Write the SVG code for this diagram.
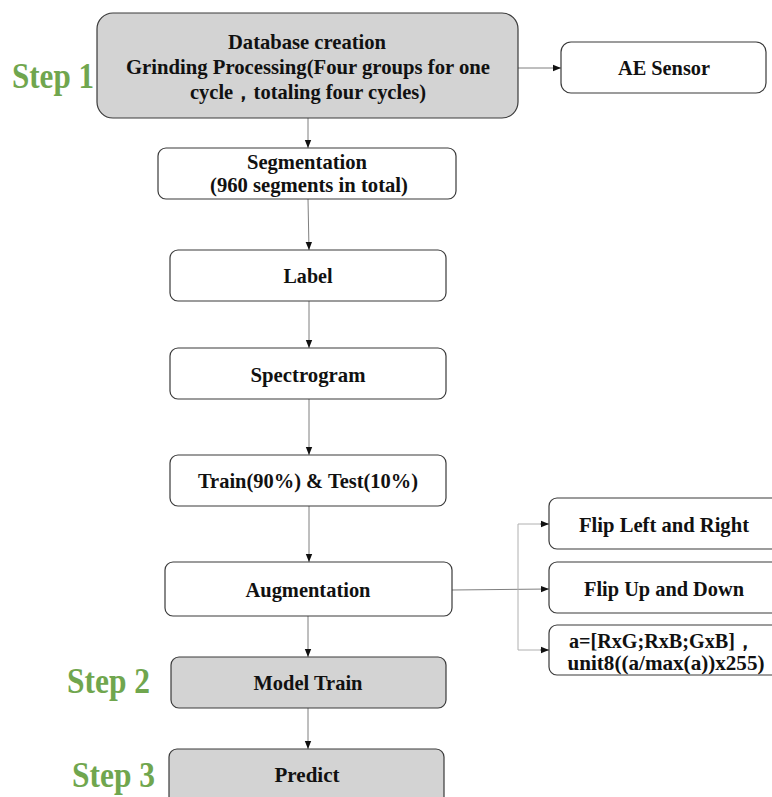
<svg xmlns="http://www.w3.org/2000/svg" width="772" height="797" viewBox="0 0 772 797">
<defs>
<style>
.box{fill:#ffffff;stroke:#3a3a3a;stroke-width:1.2}
.gray{fill:#d3d3d3;stroke:#3a3a3a;stroke-width:1.2}
.t{font-family:"Liberation Serif","Times New Roman",serif;font-weight:bold;font-size:21px;fill:#111;text-anchor:middle}
.step{font-family:"Liberation Serif","Times New Roman",serif;font-weight:bold;font-size:36px;fill:#70a64e}
.ln{fill:none;stroke:#7f7f7f;stroke-width:1}
.ln2{fill:none;stroke:#b0b0b0;stroke-width:1}
</style>
<marker id="ah" markerUnits="userSpaceOnUse" markerWidth="8" markerHeight="8" viewBox="0 0 8 8" refX="8" refY="4" orient="auto">
<path d="M0,0.8 L8,4 L0,7.2 Z" fill="#111"/>
</marker>
</defs>
<rect width="772" height="797" fill="#ffffff"/>

<g id="connectors">
<line class="ln" x1="518" y1="68" x2="561" y2="68" marker-end="url(#ah)"/>
<line class="ln" x1="308" y1="118" x2="308" y2="148" marker-end="url(#ah)"/>
<line class="ln" x1="308" y1="199" x2="309" y2="250" marker-end="url(#ah)"/>
<line class="ln" x1="309" y1="301" x2="309" y2="348" marker-end="url(#ah)"/>
<line class="ln" x1="309" y1="399" x2="309" y2="455" marker-end="url(#ah)"/>
<line class="ln" x1="309" y1="506" x2="309" y2="562" marker-end="url(#ah)"/>
<line class="ln" x1="452" y1="590" x2="549" y2="589" marker-end="url(#ah)"/>
<polyline class="ln2" points="549,524 518,524 518,650 549,650"/>
<line class="ln" x1="540" y1="524" x2="549" y2="524" marker-end="url(#ah)"/>
<line class="ln" x1="540" y1="650" x2="549" y2="650" marker-end="url(#ah)"/>
<line class="ln" x1="308" y1="616" x2="308" y2="657" marker-end="url(#ah)"/>
<line class="ln" x1="308" y1="708" x2="308" y2="749" marker-end="url(#ah)"/>
</g>

<g id="step1"><text class="step" x="12" y="88" textLength="82" lengthAdjust="spacingAndGlyphs">Step 1</text></g>
<g id="step2"><text class="step" x="67" y="693" textLength="83" lengthAdjust="spacingAndGlyphs">Step 2</text></g>
<g id="step3"><text class="step" x="72" y="787" textLength="83" lengthAdjust="spacingAndGlyphs">Step 3</text></g>

<g id="database">
<rect class="gray" x="97" y="13" width="421" height="105" rx="16"/>
<text class="t" x="307" y="49" textLength="158" lengthAdjust="spacingAndGlyphs">Database creation</text>
<text class="t" x="308" y="74" textLength="364" lengthAdjust="spacingAndGlyphs">Grinding Processing(Four groups for one</text>
<text class="t" x="308" y="99" textLength="236" lengthAdjust="spacingAndGlyphs">cycle，totaling four cycles)</text>
</g>

<g id="ae">
<rect class="box" x="561" y="42" width="205" height="51" rx="10"/>
<text class="t" x="664" y="75" textLength="92" lengthAdjust="spacingAndGlyphs">AE Sensor</text>
</g>

<g id="segmentation">
<rect class="box" x="158" y="148" width="298" height="51" rx="8"/>
<text class="t" x="307" y="169" textLength="120" lengthAdjust="spacingAndGlyphs">Segmentation</text>
<text class="t" x="309" y="192" textLength="198" lengthAdjust="spacingAndGlyphs">(960 segments in total)</text>
</g>

<g id="label">
<rect class="box" x="170" y="250" width="276" height="51" rx="8"/>
<text class="t" x="308" y="283" textLength="49" lengthAdjust="spacingAndGlyphs">Label</text>
</g>

<g id="spectrogram">
<rect class="box" x="170" y="348" width="276" height="51" rx="8"/>
<text class="t" x="308" y="382" textLength="115" lengthAdjust="spacingAndGlyphs">Spectrogram</text>
</g>

<g id="split">
<rect class="box" x="170" y="455" width="276" height="51" rx="8"/>
<text class="t" x="308" y="488" textLength="220" lengthAdjust="spacingAndGlyphs">Train(90%) &amp; Test(10%)</text>
</g>

<g id="augmentation">
<rect class="box" x="165" y="562" width="287" height="54" rx="8"/>
<text class="t" x="308" y="597" textLength="125" lengthAdjust="spacingAndGlyphs">Augmentation</text>
</g>

<g id="flip-lr">
<rect class="box" x="549" y="498" width="240" height="51" rx="8"/>
<text class="t" x="664" y="532" textLength="170" lengthAdjust="spacingAndGlyphs">Flip Left and Right</text>
</g>

<g id="flip-ud">
<rect class="box" x="549" y="562" width="240" height="51" rx="8"/>
<text class="t" x="664" y="596" textLength="160" lengthAdjust="spacingAndGlyphs">Flip Up and Down</text>
</g>

<g id="color-mix">
<rect class="box" x="549" y="625" width="240" height="50" rx="8"/>
<text class="t" x="662" y="648" textLength="186" lengthAdjust="spacingAndGlyphs">a=[RxG;RxB;GxB]，</text>
<text class="t" x="666" y="670" textLength="197" lengthAdjust="spacingAndGlyphs">unit8((a/max(a))x255)</text>
</g>

<g id="model-train">
<rect class="gray" x="171" y="657" width="275" height="51" rx="8"/>
<text class="t" x="308" y="690" textLength="109" lengthAdjust="spacingAndGlyphs">Model Train</text>
</g>

<g id="predict">
<rect class="gray" x="169" y="749" width="275" height="60" rx="8"/>
<text class="t" x="307" y="782" textLength="65" lengthAdjust="spacingAndGlyphs">Predict</text>
</g>
</svg>
